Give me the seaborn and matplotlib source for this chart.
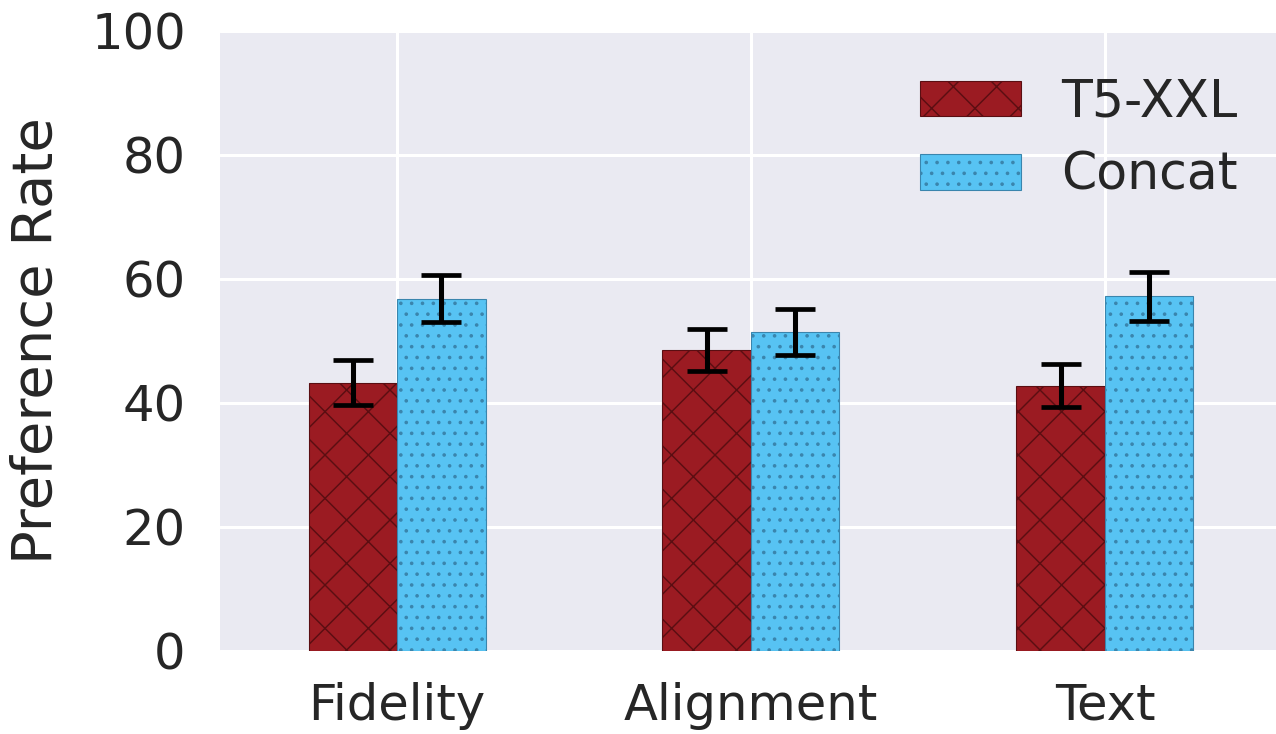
import matplotlib
matplotlib.use("Agg")
import matplotlib.pyplot as plt
import seaborn as sns
import pandas as pd
import numpy as np

categories = ["Fidelity", "Alignment", "Text"]
models = ["T5-XXL", "Concat"]
t5_values = [43.3, 48.5, 42.8]
concat_values = [56.8, 51.4, 57.2]
t5_err = [3.7, 3.4, 3.5]
concat_err = [3.8, 3.7, 4.0]
yticks = [0, 20, 40, 60, 80, 100]

sns.set_theme(style="darkgrid")
plt.rcParams["font.family"] = ["DejaVu Sans"]
plt.rcParams["hatch.linewidth"] = 0.8

df = pd.DataFrame({
    "category": categories * 2,
    "model": [models[0]] * 3 + [models[1]] * 3,
    "value": t5_values + concat_values,
    "err": t5_err + concat_err,
})

DPI = 130
fig = plt.figure(figsize=(1276 / DPI, 734 / DPI), dpi=DPI)
ax = fig.add_axes([220 / 1276, 83 / 734, 1062 / 1276, 620 / 734])
ax.set_facecolor("#EAEAF2")

colors = {"T5-XXL": "#9B1B22", "Concat": "#57C3F3"}
edges = {"T5-XXL": "#5A0E12", "Concat": "#3A85AD"}
hatches = {"T5-XXL": "x", "Concat": ".."}

sns.barplot(data=df, x="category", y="value", hue="model", order=categories,
            hue_order=models, palette=colors, width=0.5, errorbar=None, ax=ax,
            saturation=1)

for container, m in zip(ax.containers, models):
    sub = df[df["model"] == m].set_index("category").loc[categories]
    xs = []
    for patch in container.patches:
        patch.set_hatch(hatches[m])
        patch.set_edgecolor(edges[m])
        patch.set_linewidth(0.6)
        xs.append(patch.get_x() + patch.get_width() / 2)
    ax.errorbar(xs, sub["value"].values, yerr=sub["err"].values, fmt="none",
                ecolor="black", elinewidth=2.8, capsize=11, capthick=2.6, zorder=5)

ax.set_ylim(0, 100)
ax.set_xlim(-0.5, 2.5)
ax.set_yticks(yticks)
ax.grid(True, color="white", linewidth=1.7)
ax.set_axisbelow(True)
ax.tick_params(axis="both", labelsize=27.5, colors="#262626", length=0)
ax.tick_params(axis="y", pad=19)
ax.tick_params(axis="x", pad=17)
ax.set_xlabel("")
ax.set_ylabel("Preference Rate", fontsize=31, color="#262626", labelpad=15)
for s in ax.spines.values():
    s.set_visible(False)

handles, labels = ax.get_legend_handles_labels()
for h, m in zip(handles, models):
    h.set_hatch(hatches[m])
    h.set_edgecolor(edges[m])
    h.set_linewidth(0.6)
leg = ax.legend(handles, labels, loc="upper right", fontsize=28, frameon=False,
                handlelength=2.0, handleheight=0.7, handletextpad=0.8,
                labelspacing=0.46, borderpad=0, borderaxespad=0,
                bbox_to_anchor=(0.9586, 0.925))
for t in leg.get_texts():
    t.set_color("#262626")

fig.savefig("out.png", dpi=DPI)
